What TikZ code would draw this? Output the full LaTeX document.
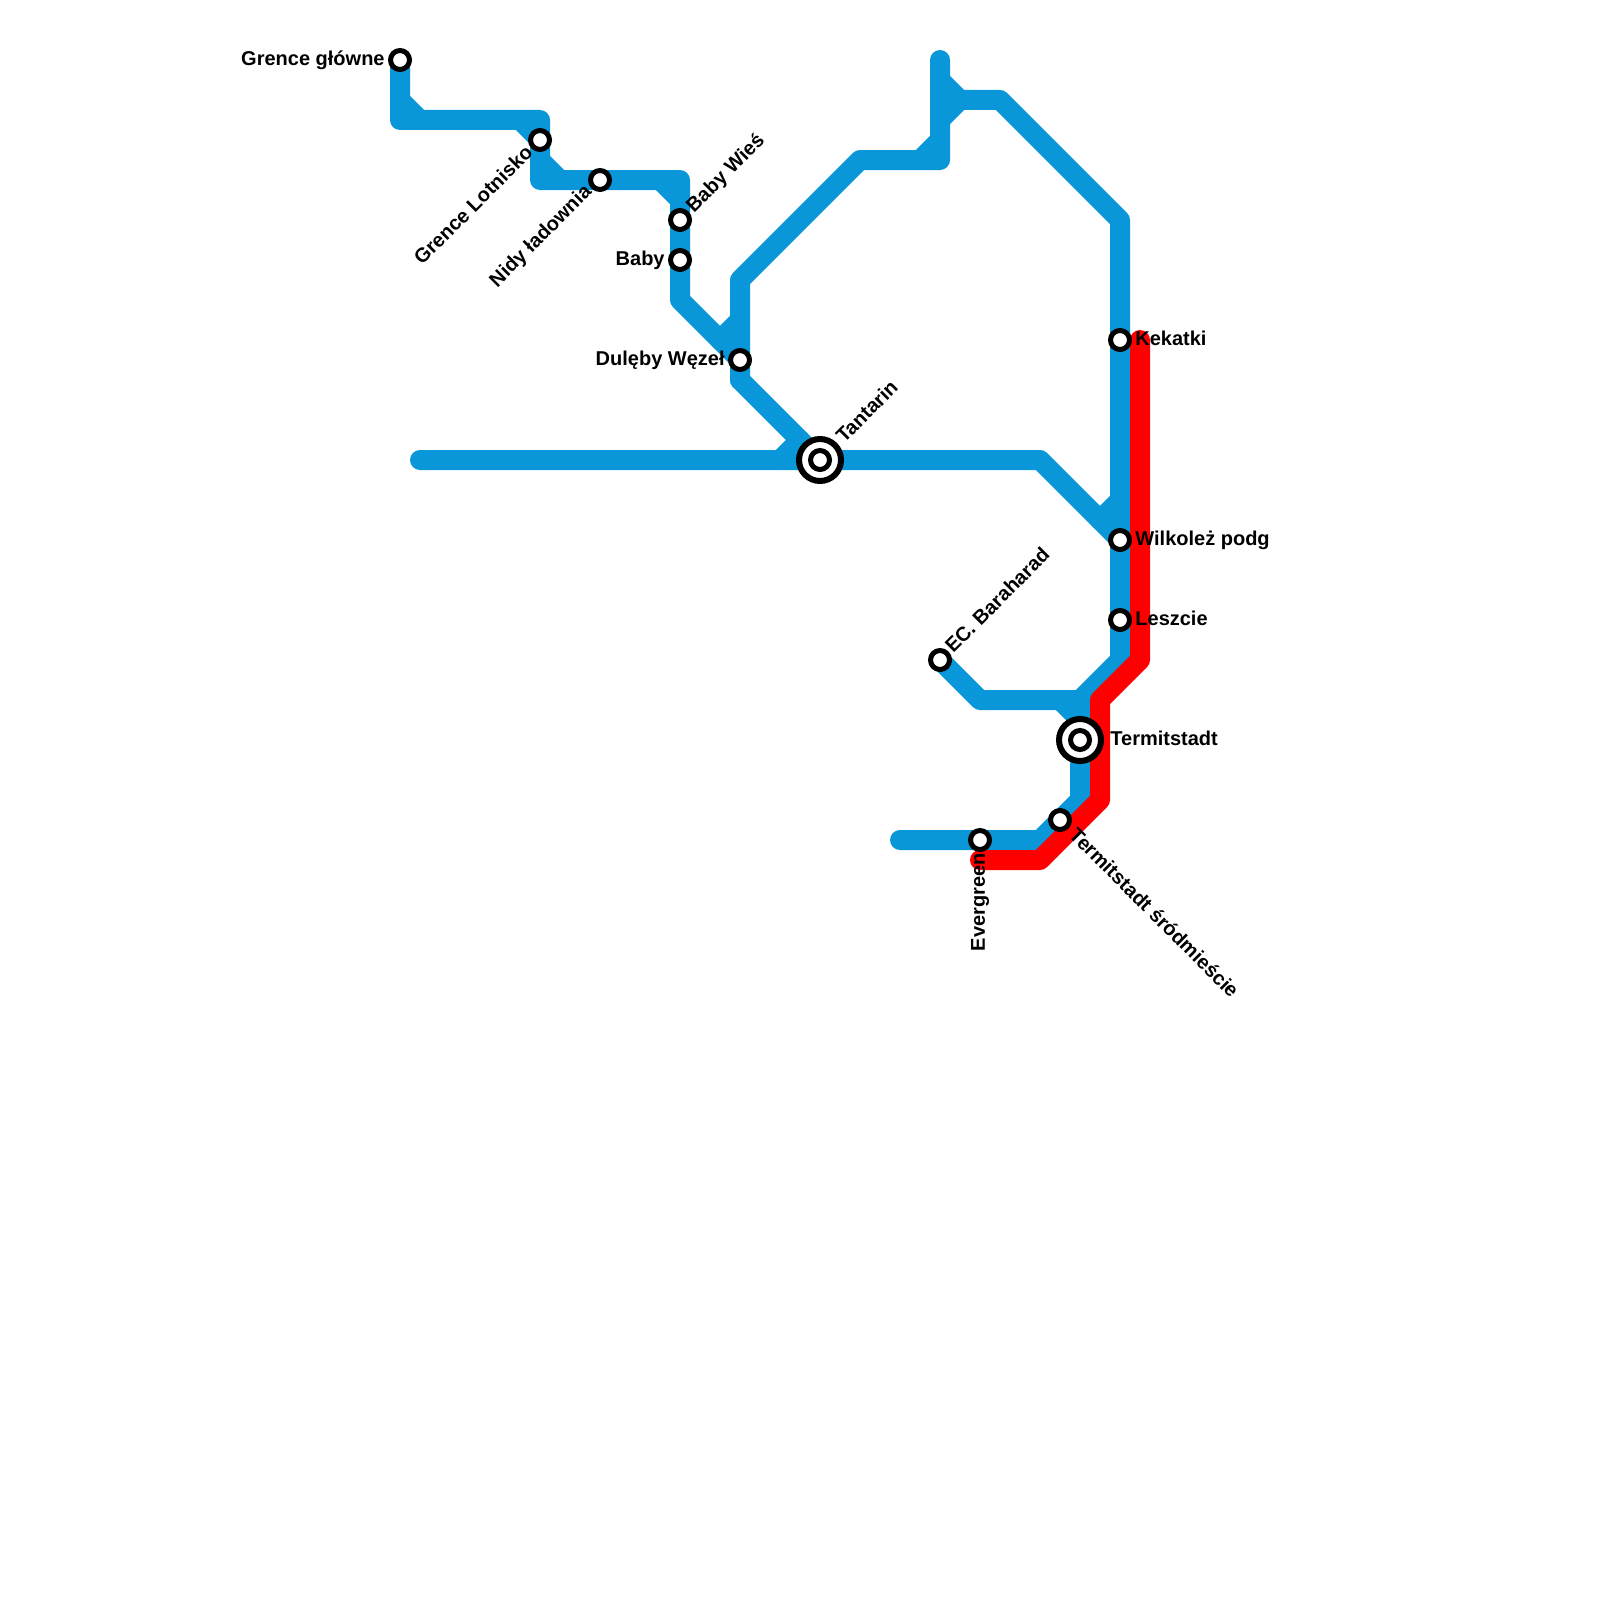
\documentclass[tikz,border=0pt]{standalone}
\usepackage{fontspec}
\setmainfont{Liberation Sans}
\usepackage{xcolor}
\definecolor{metroblue}{HTML}{0A97D9}
\definecolor{metrored}{HTML}{FF0000}
\usetikzlibrary{calc,positioning}
\tikzset{
    blueline/.style={line width=10pt,metroblue,line cap=round,line join=round},
    redline/.style={line width=10pt,metrored,line cap=round,line join=round},
    station/.style={circle,draw=black,fill=white,line width=2.5pt,inner sep=0pt,minimum size=9.5pt},
    hub/.style={circle,draw=black,fill=white,line width=3pt,inner sep=0pt,minimum size=21pt},
    stationlabel/.style={inner sep=0pt,text=black,font=\fontsize{10}{12}\selectfont\bfseries}
}

\begin{document}
\begin{tikzpicture}[x=0.5pt,y=-0.5pt]
    \useasboundingbox (0,0) rectangle (1600,1600);

    % Stations
    \coordinate (grence) at (400,60);
    \coordinate (lotnisko) at (540,140);
    \coordinate (nidy) at (600,180);
    \coordinate (babywies) at (680,220);
    \coordinate (baby) at (680,260);
    \coordinate (duleby) at (740,360);
    \coordinate (tantarin) at (820,460);
    \coordinate (kekatki) at (1120,340);
    \coordinate (wilkolez) at (1120,540);
    \coordinate (leszcie) at (1120,620);
    \coordinate (termit) at (1080,740);
    \coordinate (baraharad) at (940,660);
    \coordinate (evergreen) at (980,840);
    \coordinate (srodmiescie) at (1060,820);

    % Bends of the blue line
    \coordinate (a1) at (400,100);
    \coordinate (a2) at (400,120);
    \coordinate (a3) at (420,120);
    \coordinate (a4) at (520,120);
    \coordinate (a5) at (540,120);
    \coordinate (a6) at (540,160);
    \coordinate (a7) at (540,180);
    \coordinate (a8) at (560,180);
    \coordinate (a9) at (660,180);
    \coordinate (a10) at (680,180);
    \coordinate (a11) at (680,200);
    \coordinate (a12) at (680,300);
    \coordinate (a13) at (720,340);
    \coordinate (a14) at (740,320);
    \coordinate (a15) at (740,280);
    \coordinate (a16) at (740,380);
    \coordinate (a17) at (860,160);
    \coordinate (a18) at (920,160);
    \coordinate (a19) at (940,160);
    \coordinate (a20) at (940,140);
    \coordinate (a21) at (940,60);
    \coordinate (a22) at (940,80);
    \coordinate (a23) at (960,100);
    \coordinate (a24) at (940,120);
    \coordinate (a25) at (1000,100);
    \coordinate (a26) at (1120,220);
    \coordinate (a27) at (1120,500);
    \coordinate (a28) at (1100,520);

    % Bends of the cross line
    \coordinate (b1) at (420,460);
    \coordinate (b2) at (780,460);
    \coordinate (b3) at (800,440);
    \coordinate (b4) at (1040,460);

    % Bends of the lower lines
    \coordinate (c1) at (1120,660);
    \coordinate (c2) at (1080,700);
    \coordinate (c3) at (980,700);
    \coordinate (c4) at (1060,700);
    \coordinate (c5) at (1080,720);
    \coordinate (c6) at (1080,800);
    \coordinate (c7) at (1040,840);
    \coordinate (c8) at (900,840);

    % Bends of the red line
    \coordinate (r1) at (1140,340);
    \coordinate (r2) at (1140,660);
    \coordinate (r3) at (1100,700);
    \coordinate (r4) at (1100,800);
    \coordinate (r5) at (1040,860);
    \coordinate (r6) at (980,860);

    % Blue lines
    \draw[blueline] (grence) -- (a2) -- (a5) -- (a7) -- (a10) -- (a12) -- (duleby);
    \draw[blueline] (a1) -- (a3);
    \draw[blueline] (a4) -- (lotnisko);
    \draw[blueline] (a6) -- (a8);
    \draw[blueline] (a9) -- (a11);
    \draw[blueline] (a13) -- (a14);
    \draw[blueline] (a16) -- (a15) -- (a17) -- (a19) -- (a21);
    \draw[blueline] (a18) -- (a20);
    \draw[blueline] (a22) -- (a23) -- (a24);
    \draw[blueline] (a23) -- (a25) -- (a26) -- (c1) -- (c2) -- (c6) -- (c7) -- (c8);
    \draw[blueline] (a16) -- (tantarin);
    \draw[blueline] (b1) -- (b4) -- (wilkolez);
    \draw[blueline] (b2) -- (b3);
    \draw[blueline] (a27) -- (a28);
    \draw[blueline] (baraharad) -- (c3) -- (c2);
    \draw[blueline] (c4) -- (c5);

    % Red line
    \draw[redline] (r1) -- (r2) -- (r3) -- (r4) -- (r5) -- (r6);

    % Station rings
    \node[hub] (tantarinhub) at (tantarin) {};
    \node[hub] (termithub) at (termit) {};
    \node[station] (grencest) at (grence) {};
    \node[station] (lotniskost) at (lotnisko) {};
    \node[station] (nidyst) at (nidy) {};
    \node[station] (babywiesst) at (babywies) {};
    \node[station] (babyst) at (baby) {};
    \node[station] (dulebyst) at (duleby) {};
    \node[station] (tantarinst) at (tantarin) {};
    \node[station] (kekatkist) at (kekatki) {};
    \node[station] (wilkolezst) at (wilkolez) {};
    \node[station] (leszciest) at (leszcie) {};
    \node[station] (termitst) at (termit) {};
    \node[station] (baraharadst) at (baraharad) {};
    \node[station] (evergreenst) at (evergreen) {};
    \node[station] (srodmiesciest) at (srodmiescie) {};

    % Station names
    \node[stationlabel,anchor=east] (grencetxt) at (385,60) {Grence główne};
    \node[stationlabel,anchor=east,rotate=45] (lotniskotxt) at (529,149) {Grence Lotnisko};
    \node[stationlabel,anchor=east,rotate=45] (nidytxt) at (589,189) {Nidy ładownia};
    \node[stationlabel,anchor=west,rotate=45] (babywiestxt) at (690,210) {Baby Wieś};
    \node[stationlabel,anchor=east] (babytxt) at (665,260) {Baby};
    \node[stationlabel,anchor=east] (dulebytxt) at (725,360) {Dulęby Węzeł};
    \node[stationlabel,anchor=west,rotate=45] (tantarintxt) at (839,439) {Tantarin};
    \node[stationlabel,anchor=west] (kekatkitxt) at (1135,338) {Kekatki};
    \node[stationlabel,anchor=west] (wilkoleztxt) at (1135,540) {Wilkoleż podg};
    \node[stationlabel,anchor=west] (leszcietxt) at (1135,618) {Leszcie};
    \node[stationlabel,anchor=west] (termittxt) at (1110,738) {Termitstadt};
    \node[stationlabel,anchor=west,rotate=45] (baraharadtxt) at (948,649) {EC. Baraharad};
    \node[stationlabel,anchor=east,rotate=90] (evergreentxt) at (980,853) {Evergreen};
    \node[stationlabel,anchor=west,rotate=-45] (srodmiescietxt) at (1073,831) {Termitstadt śródmieście};
\end{tikzpicture}
\end{document}
